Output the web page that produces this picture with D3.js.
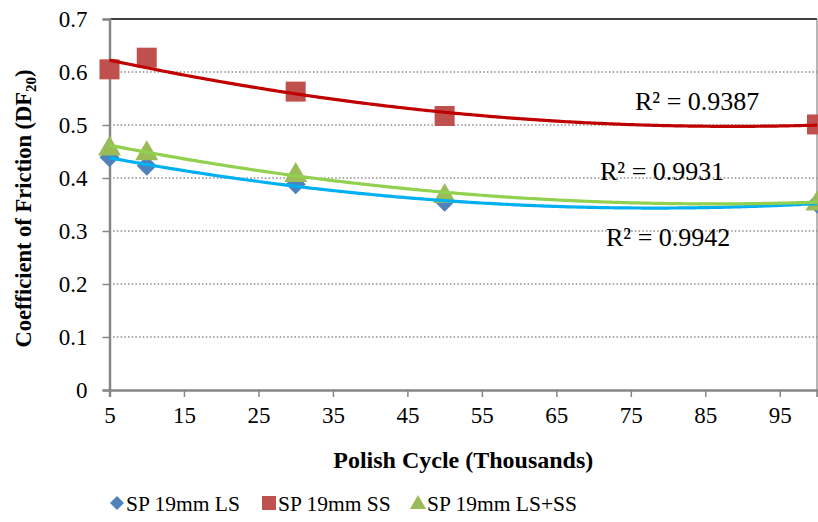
<!DOCTYPE html>
<html>
<head>
<meta charset="utf-8">
<script src="https://cdn.jsdelivr.net/npm/d3@7"></script>
<style>
  body { margin: 0; background: #fff; }
</style>
</head>
<body>
<div id="chart"></div>
<script>
// polish cycles (thousands)
const cycles = [5, 10, 30, 50, 100];
const seriesNames = ['SP 19mm LS', 'SP 19mm SS', 'SP 19mm LS+SS'];
const lsValues = [0.439, 0.423, 0.388, 0.355, 0.352];
const ssValues = [0.605, 0.627, 0.563, 0.517, 0.501];
const lsssValues = [0.459, 0.450, 0.409, 0.369, 0.355];
const r2Labels = ['R² = 0.9942', 'R² = 0.9387', 'R² = 0.9931'];
const xTicks = [5, 15, 25, 35, 45, 55, 65, 75, 85, 95];
const yTicks = [0, 0.1, 0.2, 0.3, 0.4, 0.5, 0.6, 0.7];

const FONT = '"Liberation Serif", "Times New Roman", serif';
const width = 818, height = 522;
const margin = {left: 109.5, right: 1, top: 19, bottom: 132};

const svg = d3.select('#chart').append('svg')
    .attr('width', width).attr('height', height)
    .attr('font-family', FONT);

const x = d3.scaleLinear().domain([5, 100]).range([margin.left, width - margin.right]);
const y = d3.scaleLinear().domain([0, 0.7]).range([height - margin.bottom, margin.top]);

// 2nd order polynomial least squares (like Excel's trendline)
function polyFit(xs, ys) {
    let s = [0, 0, 0, 0, 0], t = [0, 0, 0];
    xs.forEach((xv, i) => {
        for (let k = 0; k < 5; k++) s[k] += Math.pow(xv, k);
        for (let k = 0; k < 3; k++) t[k] += ys[i] * Math.pow(xv, k);
    });
    const m = [[s[0], s[1], s[2], t[0]], [s[1], s[2], s[3], t[1]], [s[2], s[3], s[4], t[2]]];
    for (let i = 0; i < 3; i++) {
        for (let j = i + 1; j < 3; j++) {
            const f = m[j][i] / m[i][i];
            for (let k = i; k < 4; k++) m[j][k] -= f * m[i][k];
        }
    }
    const c = [0, 0, 0];
    for (let i = 2; i >= 0; i--) {
        let v = m[i][3];
        for (let k = i + 1; k < 3; k++) v -= m[i][k] * c[k];
        c[i] = v / m[i][i];
    }
    return (xv) => c[0] + c[1] * xv + c[2] * xv * xv;
}

const series = [
    {name: seriesNames[0], values: lsValues, color: '#4F81BD', trend: '#00B0F0', shape: 'diamond'},
    {name: seriesNames[1], values: ssValues, color: '#C0504D', trend: '#C00000', shape: 'square'},
    {name: seriesNames[2], values: lsssValues, color: '#9BBB59', trend: '#92D050', shape: 'triangle'}
];

// gridlines
svg.append('g').selectAll('line')
    .data(yTicks.filter(d => d > 0 && d < 0.7))
    .enter().append('line')
    .attr('x1', margin.left).attr('x2', width - margin.right)
    .attr('y1', d => y(d)).attr('y2', d => y(d))
    .attr('stroke', '#8c8c8c').attr('stroke-width', 1.3)
    .attr('stroke-dasharray', '1.5,2.2');

// top and right border
svg.append('line').attr('x1', margin.left).attr('x2', width - margin.right)
    .attr('y1', y(0.7)).attr('y2', y(0.7)).attr('stroke', '#000').attr('stroke-width', 1.5);
svg.append('line').attr('x1', x(100)).attr('x2', x(100))
    .attr('y1', y(0.7)).attr('y2', y(0)).attr('stroke', '#6e6e6e').attr('stroke-width', 1);

// axes
const yAxis = svg.append('g')
    .attr('transform', 'translate(' + margin.left + ',0)')
    .call(d3.axisLeft(y).tickValues(yTicks).tickFormat(d3.format('')).tickSize(7).tickPadding(15));
const xAxis = svg.append('g')
    .attr('transform', 'translate(0,' + y(0) + ')')
    .call(d3.axisBottom(x).tickValues(xTicks).tickSize(7).tickPadding(10));
[xAxis, yAxis].forEach(a => {
    a.attr('font-family', FONT).attr('font-size', 23);
    a.select('.domain').attr('stroke', '#878787').attr('stroke-width', 2.5);
    a.selectAll('.tick line').attr('stroke', '#878787').attr('stroke-width', 1.5);
    a.selectAll('.tick text').attr('fill', '#000');
});

function drawMarker(g, shape, color, px, py, k) {
    const sizes = {diamond: 200, square: 400, triangle: 230};
    const type = shape === 'triangle' ? d3.symbolTriangle : d3.symbolSquare;
    const p = g.append('path')
        .attr('d', d3.symbol().type(type).size(sizes[shape] * k * k)())
        .attr('fill', color);
    if (shape === 'diamond') p.attr('transform', 'translate(' + px + ',' + py + ') rotate(45)');
    else if (shape === 'triangle') p.attr('transform', 'translate(' + px + ',' + (py + 2 * k) + ')');
    else p.attr('transform', 'translate(' + px + ',' + py + ')');
}

// markers
const markG = svg.append('g');
series.forEach(s => {
    s.values.forEach((v, i) => drawMarker(markG, s.shape, s.color, x(cycles[i]), y(v), 1));
});

// trendlines
const samples = d3.range(5, 100.5, 0.5);
const line = d3.line().x(d => x(d[0])).y(d => y(d[1])).curve(d3.curveBasis);
series.forEach(s => {
    const f = polyFit(cycles, s.values);
    svg.append('path')
        .attr('d', line(samples.map(xv => [xv, f(xv)])))
        .attr('fill', 'none').attr('stroke', s.trend).attr('stroke-width', 3.2);
});

// R² labels
const r2Pos = [[606, 246], [635, 110], [600, 180]];
r2Labels.forEach((t, i) => {
    svg.append('text').attr('x', r2Pos[i][0]).attr('y', r2Pos[i][1])
        .attr('font-size', 26).text(t);
});

// axis titles
svg.append('text').attr('x', (margin.left + width - margin.right) / 2).attr('y', 468)
    .attr('text-anchor', 'middle').attr('font-size', 24).attr('font-weight', 'bold')
    .text('Polish Cycle (Thousands)');
const yt = svg.append('text')
    .attr('transform', 'translate(31,' + ((y(0) + y(0.7)) / 2 + 4) + ') rotate(-90)')
    .attr('text-anchor', 'middle').attr('font-size', 22.5).attr('font-weight', 'bold');
yt.append('tspan').text('Coefficient of Friction (DF');
yt.append('tspan').attr('dy', 5).attr('font-size', 15).text('20');
yt.append('tspan').attr('dy', -5).text(')');

// legend
const legendX = [117, 269, 418];
series.forEach((s, i) => {
    const g = svg.append('g');
    drawMarker(g, s.shape, s.color, legendX[i], 503, 0.7);
    g.append('text').attr('x', legendX[i] + 9).attr('y', 511)
        .attr('font-size', 21.5).text(s.name);
});
</script>
</body>
</html>
